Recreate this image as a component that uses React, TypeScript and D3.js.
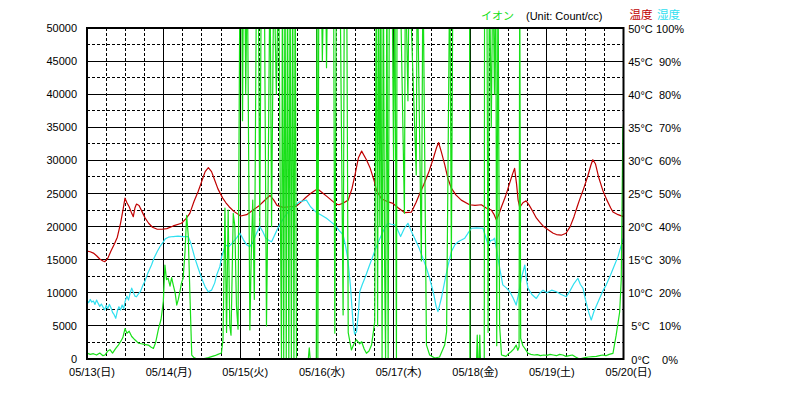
import React from 'react';
import * as d3 from 'd3';

const dayLabels = ['05/13(日)', '05/14(月)', '05/15(火)', '05/16(水)', '05/17(木)', '05/18(金)', '05/19(土)', '05/20(日)'];
const ionTicks = [0, 5000, 10000, 15000, 20000, 25000, 30000, 35000, 40000, 45000, 50000];
const tempTicks = [0, 5, 10, 15, 20, 25, 30, 35, 40, 45, 50];
const humTicks = [0, 10, 20, 30, 40, 50, 60, 70, 80, 90, 100];

// [hour since 05/13 00:00, °C]
const tempData: [number, number][] = [
  [0, 16.3], [1, 16.2], [2, 16.0], [3, 15.6], [4, 15.1], [5, 14.8], [5.6, 14.7], [6.5, 15.2], [7.5, 16.3], [8.5, 17.3],
  [9.5, 18.4], [10.5, 20.5], [11.3, 22.6], [11.9, 24.3], [12.5, 23.6], [13.2, 23.0], [14.0, 22.0], [14.5, 21.5], [15.0, 22.8],
  [15.5, 23.4], [16.3, 23.2], [17.2, 22.3], [18.2, 21.3], [19.3, 20.5], [20.5, 19.9], [22, 19.6], [23.5, 19.6], [25, 19.7],
  [27, 20.1], [29.6, 20.5], [31, 21.2], [32.2, 22.0], [33.5, 23.8], [34.8, 25.3], [35.9, 26.8], [37, 28.3], [38, 28.9],
  [39, 28.3], [40, 27.0], [41, 25.7], [42.5, 24.3], [43.5, 23.6], [44.5, 23.0], [46, 22.3], [48.1, 21.6], [50, 21.8],
  [52, 22.5], [54, 23.2], [55.5, 23.9], [57.3, 24.7], [58.5, 24.0], [59.5, 23.2], [61.4, 22.9], [63.5, 23.0], [65.6, 23.1],
  [67, 23.7], [68.5, 24.4], [70, 25.0], [71.5, 25.5], [72.4, 25.6], [73.5, 25.2], [75, 24.6], [76.5, 24.0], [78, 23.4],
  [78.9, 23.3], [80, 23.5], [81.8, 24.0], [83, 25.8], [84, 28.0], [85, 30.4], [86, 31.4], [87.5, 30.1], [88.7, 28.8],
  [90, 26.8], [90.6, 25.5], [92.2, 24.2], [94, 23.8], [95.8, 23.5], [97.5, 22.8], [99.5, 22.1], [101.6, 22.2], [103, 23.6],
  [104.2, 25.0], [105.5, 26.4], [107, 28.2], [108.5, 30.4], [109.5, 32.0], [110.1, 32.7], [111, 31.2], [112, 29.4],
  [113, 27.3], [114.1, 25.8], [115.5, 24.8], [117.2, 24.0], [119.8, 23.3], [121.5, 23.2], [123.5, 23.3], [125, 22.8],
  [126.6, 22.5], [127.5, 21.8], [128.2, 21.0], [129.0, 21.9], [129.8, 23.0], [131, 24.5], [132.3, 26.5], [133.3, 28.0],
  [133.9, 28.8], [134.5, 26.5], [135.0, 24.0], [135.5, 22.9], [136.5, 23.6], [137.5, 23.9], [138.5, 23.2], [139.7, 22.2],
  [140.7, 21.3], [141.7, 20.7], [143, 20.0], [144.5, 19.5], [146, 19.0], [147, 18.8], [148.5, 18.7], [150, 19.0],
  [151.3, 20.0], [152.5, 21.5], [153.5, 23.0], [154.2, 24.0], [155.5, 25.7], [156.8, 27.6], [157.8, 29.3], [158.4, 30.1],
  [159.2, 29.5], [160.2, 27.5], [161.5, 25.5], [162.8, 24.0], [164, 22.8], [164.7, 22.2], [166.3, 21.8], [168, 21.5],
];

// [hour, %]
const humData: [number, number][] = [
  [0, 17.8], [0.5, 17.0], [1, 18.0], [1.5, 17.2], [2, 17.5], [2.5, 16.5], [3, 17.8], [3.5, 16.8], [4, 15.9], [4.5, 16.6],
  [5, 15.7], [5.5, 14.8], [6, 16.2], [6.5, 15.2], [7, 16.5], [7.5, 15.5], [8, 14.1], [8.5, 13.4], [9, 12.3], [9.5, 14.5],
  [10, 15.8], [10.5, 14.8], [11, 16.3], [11.5, 15.2], [11.9, 17.3], [12.5, 19.0], [13, 17.8], [13.5, 19.9], [14, 21.4],
  [14.5, 20.2], [15, 19.0], [15.5, 18.8], [16, 19.5], [16.8, 20.5], [17.5, 22.3], [18.1, 23.4], [19, 25.8], [20.2, 28.4],
  [21, 30.5], [22, 32.5], [23, 34.2], [23.9, 35.4], [24.5, 36.3], [25.5, 36.8], [27, 37.0], [28.5, 37.1], [30, 37.0],
  [31.7, 37.0], [32.5, 35.0], [33.8, 30.4], [34.8, 27.5], [35.9, 24.4], [37, 21.8], [38, 20.3], [39, 20.8], [40, 23.0],
  [40.6, 25.4], [41.6, 27.9], [42.2, 31.0], [42.7, 32.4], [43.3, 34.4], [44.5, 34.0], [45.8, 35.4], [46.8, 36.5],
  [47.9, 38.0], [49, 36.0], [50, 34.5], [51, 33.9], [52, 35.5], [53, 37.8], [54.1, 40.0], [55, 38.6], [56, 36.5],
  [57, 35.8], [57.8, 35.4], [58.8, 37.5], [60, 40.0], [60.9, 41.5], [62, 43.2], [63.5, 45.0], [65, 46.3], [66.6, 47.5],
  [68.7, 48.0], [70, 46.0], [71.8, 44.3], [73.3, 43.5], [75, 42.5], [76.3, 41.5], [77.6, 40.5], [79, 38.8], [80.2, 37.5],
  [81, 34.0], [81.7, 30.0], [82.5, 22.0], [83.3, 11.0], [83.8, 7.5], [84.4, 8.2], [85, 14.0], [85.4, 20.3], [86.2, 22.5],
  [87, 24.4], [88.5, 28.4], [89.5, 31.0], [90.6, 33.9], [92.2, 37.5], [93.2, 39.5], [94.2, 41.0], [95.3, 40.7],
  [96.4, 40.5], [97.3, 39.0], [98.2, 37.0], [99.4, 39.5], [100.5, 41.0], [101.6, 38.5], [102.6, 36.5], [104, 33.5],
  [105.2, 30.4], [106.3, 27.5], [107.3, 24.4], [108.6, 19.5], [109.3, 16.0], [109.9, 14.3], [111, 18.5], [112, 23.4],
  [113, 28.0], [114.1, 32.4], [115.2, 34.5], [116.2, 35.4], [118.3, 36.5], [119.3, 38.0], [120.4, 39.5], [122, 39.6],
  [124, 39.5], [124.8, 37.0], [125.6, 34.4], [126.4, 35.8], [127.2, 36.0], [127.6, 36.5], [128.2, 33.5], [128.7, 30.4],
  [129.5, 26.0], [130.2, 22.4], [131.3, 21.5], [132.4, 20.3], [133.4, 18.5], [134.4, 16.3], [135.2, 20.0], [136, 24.4],
  [137.1, 28.4], [137.6, 24.0], [138.1, 21.4], [139.3, 19.5], [140.7, 18.3], [141.7, 19.8], [142.8, 20.8], [144, 20.0],
  [145.5, 20.8], [147, 20.3], [148.5, 19.5], [150.1, 18.8], [151.2, 20.5], [152.5, 22.8], [153.7, 24.4], [154.5, 22.5],
  [155.3, 21.4], [156.2, 17.5], [157.2, 13.8], [157.9, 11.8], [158.8, 14.5], [160.5, 18.3], [161.5, 20.5], [162.6, 22.4],
  [164, 25.5], [165.2, 28.4], [166.3, 31.0], [167.3, 34.4], [168, 36.5],
];

// [hour, count/cc] (values above 50000 are off the chart)
const ionData: [number, number][] = [
  [0, 900], [1, 700], [2, 800], [3, 600], [4, 900], [5, 500], [5.6, 600], [6.5, 1200], [7.2, 1400], [8, 900], [9, 1600],
  [9.8, 2100], [10.5, 2600], [11.2, 3200], [11.9, 4600], [12.5, 3900], [13.2, 4200], [14, 3400], [15, 2900], [16.1, 2400],
  [17, 2300], [18, 2200], [19.2, 2100], [20, 1800], [20.8, 1600], [21.5, 2500], [22.4, 4600], [23.2, 6000], [23.9, 8700],
  [24.4, 14200], [24.9, 12000], [25.4, 12200], [26, 11000], [26.5, 12300], [27, 11200], [27.6, 10000], [28.1, 8150],
  [28.6, 9000], [29.1, 10200], [29.6, 11500], [30.1, 12200], [30.7, 16200], [31.2, 21700], [31.7, 18700], [32.2, 10200],
  [32.8, 600], [33.5, 200], [34.5, 0], [35.9, 0], [37, 100], [38, 200], [39, 350], [40, 500], [41, 700], [42.1, 900],
  [42.6, 3000], [43.2, 22800], [43.7, 4000], [44.2, 22500], [44.7, 5000], [45.1, 3600], [45.8, 22000], [46.3, 20000],
  [46.8, 8000], [47.3, 4500], [47.9, 60000], [48.4, 60000], [48.7, 36000], [49.0, 60000], [49.4, 60000], [49.7, 40000],
  [50.2, 60000], [51.0, 4400], [51.4, 15000], [51.9, 24000], [52.4, 9000], [53.1, 60000], [53.6, 60000], [54.1, 20200],
  [54.6, 60000], [55.5, 60000], [56.2, 5000], [56.7, 25000], [57.3, 60000], [57.8, 20000], [58.5, 60000], [59.3, 40000],
  [60, 60000], [60.9, 0], [61.2, 60000], [61.6, 0], [62, 60000], [62.4, 0], [62.8, 60000], [63.2, 0], [63.6, 60000],
  [64, 0], [64.4, 60000], [64.8, 0], [65.2, 60000], [65.6, 0], [66.1, 0], [69.3, 0], [69.6, 1700], [69.9, 0], [71.8, 0],
  [72.0, 60000], [72.3, 0], [72.6, 60000], [73.3, 60000], [73.7, 45000], [74.2, 60000], [74.7, 60000], [75, 44000],
  [75.4, 60000], [77.2, 60000], [77.6, 3900], [78.1, 60000], [79.2, 60000], [80.2, 6650], [80.6, 60000], [81.3, 60000],
  [81.8, 4000], [82.8, 1360], [83.5, 2200], [84.4, 2900], [85.4, 2300], [86, 2600], [86.8, 1500], [87.5, 860],
  [88.3, 1200], [89.1, 2100], [90.1, 5600], [90.6, 60000], [91.0, 5000], [91.3, 60000], [91.7, 20000], [92.0, 60000],
  [92.4, 0], [92.8, 60000], [93.2, 14000], [93.5, 0], [93.9, 60000], [94.3, 0], [94.7, 60000], [95.5, 60000],
  [96.0, 30000], [96.4, 60000], [96.9, 0], [97.1, 60000], [98.0, 60000], [99.4, 22000], [99.7, 60000], [100.5, 39000],
  [100.9, 60000], [103.1, 27800], [103.4, 60000], [104.7, 14800], [105.2, 60000], [106.3, 2100], [107.3, 600],
  [108.9, 150], [110.4, 300], [112.0, 2100], [112.6, 4100], [113.6, 60000], [114.1, 15200], [114.6, 60000],
  [119.8, 60000], [119.9, 0], [122.0, 0], [122.2, 3600], [122.4, 0], [122.8, 0], [123.0, 3600], [123.2, 0], [124.4, 0],
  [124.5, 60000], [125.2, 60000], [125.6, 4000], [126.0, 60000], [126.6, 35000], [127.1, 60000], [127.6, 40000],
  [128.0, 60000], [128.3, 2000], [128.7, 60000], [129.2, 5000], [129.8, 600], [130.5, 500], [131.2, 400], [132, 800],
  [132.8, 1100], [133.6, 1500], [134.4, 2100], [134.9, 1300], [135.3, 1800], [135.5, 60000], [135.8, 3100],
  [136.5, 2000], [137.1, 1600], [138.1, 860], [139, 700], [140, 600], [141, 650], [142, 500], [143, 600], [144, 550],
  [145, 700], [146, 600], [147, 500], [148, 700], [149, 600], [150, 400], [151, 500], [152, 600], [153, 300], [154.2, 0],
  [155, 100], [156, 200], [157, 300], [158.4, 350], [159.5, 400], [160.5, 500], [161.5, 600], [162.5, 500], [163.5, 700],
  [164.7, 860], [165.7, 3600], [166.8, 7100], [167.3, 12000], [167.8, 34800], [168, 35500],
];

const FONT = '"Liberation Sans", Arial, "Noto Sans CJK JP", sans-serif';

export default function App() {
  const W = 786;
  const H = 399;
  const left = 87;
  const right = 623.5;
  const top = 28;
  const bottom = 359;

  const x = d3.scaleLinear().domain([0, 168]).range([left, right]);
  const yIon = d3.scaleLinear().domain([0, 50000]).range([bottom, top]);
  const yT = d3.scaleLinear().domain([0, 50]).range([bottom, top]);
  const yH = d3.scaleLinear().domain([0, 100]).range([bottom, top]);

  const lineT = d3.line<[number, number]>().x(d => x(d[0])).y(d => yT(d[1]));
  const lineH = d3.line<[number, number]>().x(d => x(d[0])).y(d => yH(d[1]));
  const lineI = d3.line<[number, number]>().x(d => x(d[0])).y(d => yIon(d[1]));

  const dayHours = d3.range(0, 169, 24);
  const quarterHours = d3.range(6, 168, 6).filter(h => h % 24 !== 0);
  const halfSteps = d3.range(2500, 50000, 5000);

  return (
    <svg width={W} height={H} style={{ position: 'absolute', left: 0, top: 0, background: '#fff' }}>
      <defs>
        <clipPath id="plot">
          <rect x={left} y={top} width={right - left} height={bottom - top} />
        </clipPath>
      </defs>
      <rect x={0} y={0} width={W} height={H} fill="#fff" />
      {/* grid */}
      <g shapeRendering="crispEdges">
        {halfSteps.map(v => (
          <line key={'hd' + v} x1={left} x2={right} y1={yIon(v)} y2={yIon(v)} stroke="#000" strokeWidth={1} strokeDasharray="3,2" />
        ))}
        {quarterHours.map(h => (
          <line key={'vd' + h} x1={x(h)} x2={x(h)} y1={top} y2={bottom} stroke="#000" strokeWidth={1} strokeDasharray="3,2" />
        ))}
        {ionTicks.map(v => (
          <line key={'hs' + v} x1={left} x2={right} y1={yIon(v)} y2={yIon(v)} stroke="#000" strokeWidth={1} />
        ))}
        {dayHours.map(h => (
          <line key={'vs' + h} x1={x(h)} x2={x(h)} y1={top} y2={bottom} stroke="#000" strokeWidth={1} />
        ))}
      </g>
      {/* series */}
      <g clipPath="url(#plot)" fill="none" strokeWidth={1.2} strokeLinejoin="round">
        <path d={lineT(tempData) || ''} stroke="#c00000" />
        <path d={lineH(humData) || ''} stroke="#30e0f0" />
        <path d={lineI(ionData) || ''} stroke="#18e018" />
      </g>
      {/* frame */}
      <rect x={left} y={top} width={right - left} height={bottom - top} fill="none" stroke="#000" strokeWidth={2} />
      {/* axis labels */}
      <g fontFamily={FONT} fontSize={11} fill="#000">
        {ionTicks.map(v => (
          <text key={'li' + v} x={77} y={yIon(v) + 4} textAnchor="end">{v}</text>
        ))}
        {tempTicks.map(v => (
          <text key={'rt' + v} x={640.5} y={yT(v) + 4.5} textAnchor="middle">{v + '°C'}</text>
        ))}
        {humTicks.map(v => (
          <text key={'rh' + v} x={670} y={yH(v) + 4.5} textAnchor="middle">{v + '%'}</text>
        ))}
        {dayLabels.map((l, i) => (
          <text key={'d' + i} x={x(dayHours[i]) + 5} y={376} textAnchor="middle">{l}</text>
        ))}
      </g>
      {/* legend */}
      <g fontFamily={FONT} fontSize={11}>
        <text x={481} y={20} fill="#18e018">イオン</text>
        <text x={526} y={20} fill="#000">(Unit: Count/cc)</text>
        <text x={641} y={18.5} fill="#c00000" textAnchor="middle" fontSize={11.5}>温度</text>
        <text x={668.5} y={18.5} fill="#30e0f0" textAnchor="middle" fontSize={11.5}>湿度</text>
      </g>
    </svg>
  );
}
